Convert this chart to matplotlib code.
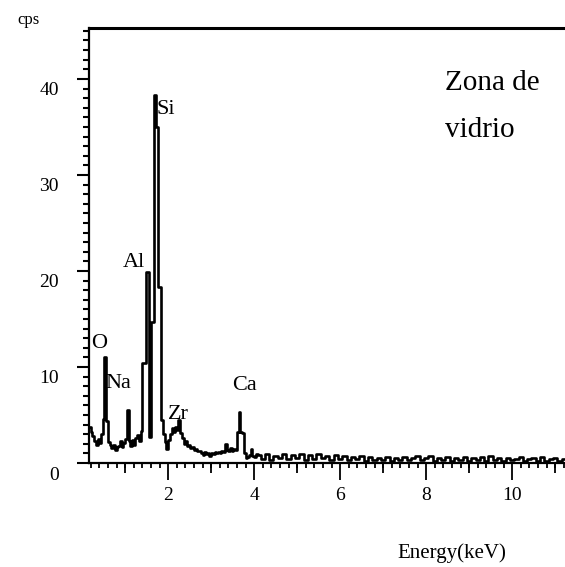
import matplotlib
matplotlib.use('Agg')
import matplotlib.pyplot as plt
import matplotlib.transforms as mtransforms
from matplotlib.ticker import MultipleLocator
import numpy as np

plt.rcParams['font.family'] = ['Liberation Serif', 'DejaVu Serif']

# Espectro EDS - zona de vidrio (canales de 0.04 keV hasta ~4 keV)
low_start = 0.18
low_step = 0.04
low_counts = [3.8, 3.2, 2.8, 2.3, 1.9, 2.5, 2.1, 3.0, 4.6, 11.0,
              4.4, 2.2, 1.9, 1.6, 1.9, 1.4, 1.7, 1.8, 2.3, 1.7,
              2.1, 2.5, 5.5, 2.3, 1.8, 2.4, 1.9, 2.6, 2.9, 2.3,
              3.3, 10.4, 10.4, 19.9, 19.9, 2.7, 14.7, 14.7, 38.3, 35.0,
              18.3, 18.3, 4.5, 3.0, 2.2, 1.5, 2.4, 3.0, 3.6, 3.2,
              3.8, 3.4, 4.5, 3.1, 2.6, 2.0, 2.3, 1.8, 1.9, 1.6,
              1.7, 1.4, 1.5, 1.2, 1.3, 1.0, 0.8, 1.1, 0.9, 1.0,
              0.7, 1.0, 0.9, 1.1, 1.0, 1.1, 1.0, 1.2, 1.1, 2.0,
              1.4, 1.2, 1.6, 1.3, 1.5, 1.4, 3.2, 5.3, 3.2, 3.1,
              1.0, 0.5, 0.6, 0.8, 1.5, 0.7, 0.6, 0.9]

# cola del espectro (canales de 0.1 keV desde 4.1 keV)
tail_start = 4.1
tail_step = 0.1
tail_counts = [0.8, 0.4, 0.9, 0.3, 0.7, 0.5, 0.9, 0.4, 0.8, 0.5,
               0.9, 0.3, 0.8, 0.4, 0.9, 0.5, 0.7, 0.3, 0.8, 0.4,
               0.7, 0.3, 0.6, 0.4, 0.7, 0.2, 0.6, 0.3, 0.5, 0.3,
               0.6, 0.2, 0.5, 0.3, 0.6, 0.3, 0.5, 0.7, 0.3, 0.5,
               0.7, 0.2, 0.5, 0.3, 0.6, 0.2, 0.5, 0.3, 0.6, 0.2,
               0.5, 0.3, 0.6, 0.2, 0.7, 0.3, 0.5, 0.2, 0.5, 0.3,
               0.4, 0.6, 0.2, 0.4, 0.5, 0.2, 0.6, 0.2, 0.4, 0.5, 0.2, 0.4, 0.4]

# etiquetas de los elementos
elements = ['O', 'Na', 'Al', 'Si', 'Zr', 'Ca']
elem_x = [0.40, 0.53, 0.95, 1.72, 2.00, 3.49]
elem_y = [12.4, 8.3, 20.9, 36.8, 5.0, 8.1]
elem_ha = ['center', 'left', 'left', 'left', 'left', 'left']

xticks = [2, 4, 6, 8, 10]
yticks = [0, 10, 20, 30, 40]

energy = np.concatenate([low_start + low_step * np.arange(len(low_counts)),
                         tail_start + tail_step * np.arange(len(tail_counts))])
counts = np.concatenate([low_counts, tail_counts])

fig = plt.figure(figsize=(5.65, 5.67), dpi=100)
ax = fig.add_axes([0.1575, 0.1834, 0.8425, 0.7672])

ax.plot(energy, counts, color='black', linewidth=1.9, drawstyle='steps-mid')

ax.set_xlim(0.16, 11.23)
ax.set_ylim(0, 45.3)

for name, x, y, ha in zip(elements, elem_x, elem_y, elem_ha):
    ax.text(x, y, name, fontsize=16, ha=ha, va='center')

ax.text(8.44, 39.6, 'Zona de', fontsize=21, ha='left', va='center')
ax.text(8.44, 34.7, 'vidrio', fontsize=21, ha='left', va='center')

# ejes
ax.spines['right'].set_visible(False)
ax.spines['top'].set_linewidth(2.2)
ax.spines['left'].set_linewidth(1.6)
ax.spines['bottom'].set_linewidth(1.6)

ax.set_xticks(xticks)
ax.set_yticks(yticks)
ax.xaxis.set_minor_locator(MultipleLocator(0.2))
ax.yaxis.set_minor_locator(MultipleLocator(1))
ax.tick_params(axis='y', which='major', direction='out', length=8.6, width=1.5,
               pad=13, labelsize=14)
ax.tick_params(axis='y', which='minor', direction='out', length=4.3, width=1.5)
ax.tick_params(axis='x', which='major', direction='out', length=12, width=1.3,
               pad=5, labelsize=14)
ax.tick_params(axis='x', which='minor', direction='out', length=3.6, width=1.3)

# marcas intermedias en los enteros impares
secax = ax.secondary_xaxis('bottom')
secax.set_xticks([1, 3, 5, 7, 9, 11])
secax.tick_params(direction='out', length=7.2, width=1.3, labelbottom=False)
secax.spines['bottom'].set_visible(False)

# etiquetas del eje y un poco desplazadas hacia abajo
offset = mtransforms.ScaledTranslation(0, -10 / 100, fig.dpi_scale_trans)
for lab in ax.get_yticklabels():
    lab.set_transform(lab.get_transform() + offset)

fig.text(0.05, 0.965, 'cps', fontsize=12, ha='center', va='center')
fig.text(0.80, 0.025, 'Energy(keV)', fontsize=15, ha='center', va='center')

fig.savefig('out.png', dpi=100)
